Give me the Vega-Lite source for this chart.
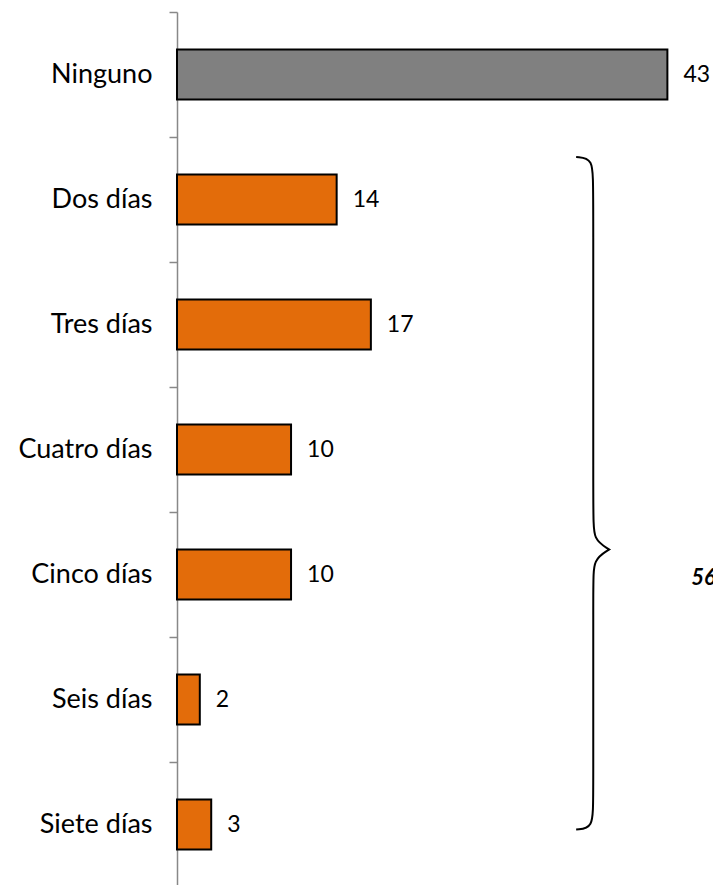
{
  "$schema": "https://vega.github.io/schema/vega-lite/v6.json",
  "width": 536,
  "height": 875,
  "autosize": "none",
  "padding": {"left": 177, "top": 12, "right": 0, "bottom": 0},
  "background": "white",
  "config": {"view": {"stroke": null}, "font": "Lato"},
  "datasets": {
    "bars": [
      {"cat": "Ninguno", "val": 43, "grp": "none"},
      {"cat": "Dos días", "val": 14, "grp": "some"},
      {"cat": "Tres días", "val": 17, "grp": "some"},
      {"cat": "Cuatro días", "val": 10, "grp": "some"},
      {"cat": "Cinco días", "val": 10, "grp": "some"},
      {"cat": "Seis días", "val": 2, "grp": "some"},
      {"cat": "Siete días", "val": 3, "grp": "some"}
    ],
    "brace": [
      {"i": 0, "bx": 35.0, "by": 1.16},
      {"i": 1, "bx": 36.5, "by": 1.17},
      {"i": 2, "bx": 36.5, "by": 1.4},
      {"i": 3, "bx": 36.5, "by": 4.04},
      {"i": 4, "bx": 36.5, "by": 4.22},
      {"i": 5, "bx": 37.9, "by": 4.3},
      {"i": 6, "bx": 37.9, "by": 4.3},
      {"i": 7, "bx": 37.9, "by": 4.3},
      {"i": 8, "bx": 36.5, "by": 4.38},
      {"i": 9, "bx": 36.5, "by": 4.56},
      {"i": 10, "bx": 36.5, "by": 6.3},
      {"i": 11, "bx": 36.5, "by": 6.53},
      {"i": 12, "bx": 35.0, "by": 6.54}
    ],
    "note": [{"tx": 45.1, "ty": 4.53, "txt": "56%"}]
  },
  "layer": [
    {
      "data": {"name": "bars"},
      "layer": [
        {
          "mark": {"type": "bar", "stroke": "black", "strokeWidth": 2, "height": {"band": 0.4}},
          "encoding": {
            "y": {
              "field": "cat", "type": "nominal", "sort": null,
              "scale": {"paddingInner": 0, "paddingOuter": 0},
              "axis": {
                "title": null, "domainColor": "#888888", "domainWidth": 1.5,
                "tickColor": "#888888", "tickSize": 8, "tickWidth": 1.5, "tickBand": "extent",
                "labelFontSize": 27, "labelColor": "black", "labelPadding": 17, "labelFont": "Lato"
              }
            },
            "x": {"field": "val", "type": "quantitative", "scale": {"domain": [0, 47], "nice": false}, "axis": null},
            "color": {
              "field": "grp", "type": "nominal",
              "scale": {"domain": ["none", "some"], "range": ["#808080", "#E36C0A"]},
              "legend": null
            }
          }
        },
        {
          "mark": {"type": "text", "align": "left", "dx": 16, "fontSize": 23, "font": "Lato", "color": "black"},
          "encoding": {
            "y": {"field": "cat", "type": "nominal", "sort": null},
            "x": {"field": "val", "type": "quantitative"},
            "text": {"field": "val", "type": "quantitative"}
          }
        }
      ]
    },
    {
      "data": {"name": "brace"},
      "mark": {"type": "line", "interpolate": "basis", "color": "black", "strokeWidth": 2},
      "encoding": {
        "x": {"field": "bx", "type": "quantitative"},
        "y": {"field": "by", "type": "quantitative", "scale": {"domain": [0, 7], "reverse": true, "nice": false}, "axis": null},
        "order": {"field": "i", "type": "quantitative"}
      }
    },
    {
      "data": {"name": "note"},
      "mark": {"type": "text", "align": "left", "baseline": "middle", "fontSize": 22, "fontWeight": "bold", "fontStyle": "italic", "font": "Lato", "color": "black"},
      "encoding": {
        "x": {"field": "tx", "type": "quantitative"},
        "y": {"field": "ty", "type": "quantitative", "scale": {"domain": [0, 7], "reverse": true, "nice": false}, "axis": null},
        "text": {"field": "txt"}
      }
    }
  ],
  "resolve": {"scale": {"y": "independent"}}
}
